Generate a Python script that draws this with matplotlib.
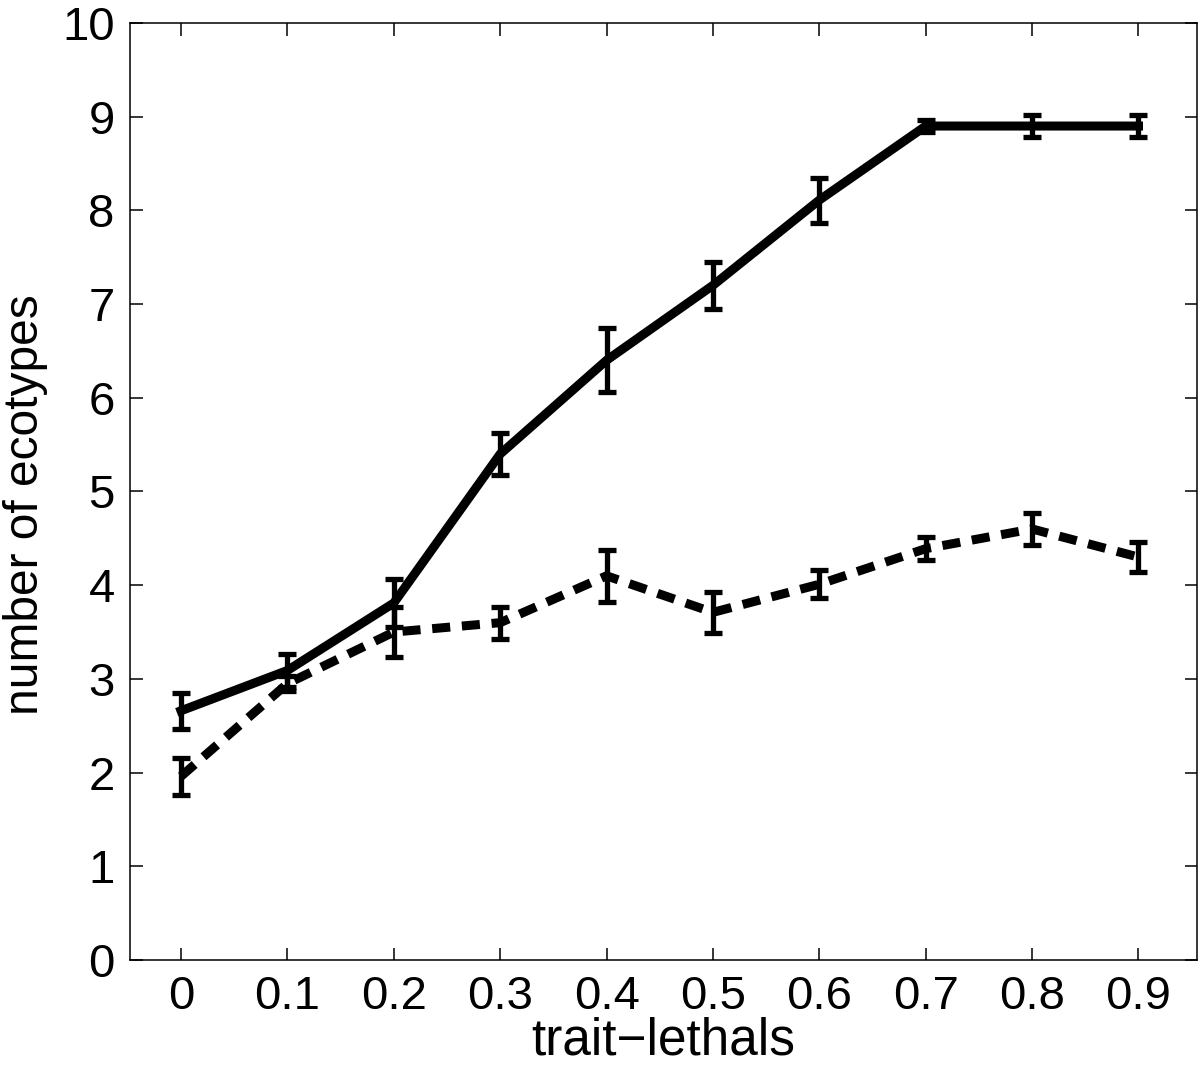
import matplotlib
matplotlib.use("Agg")
import matplotlib.pyplot as plt

x = [0, 0.1, 0.2, 0.3, 0.4, 0.5, 0.6, 0.7, 0.8, 0.9]
solid_mean = [2.66, 3.09, 3.81, 5.40, 6.40, 7.20, 8.11, 8.90, 8.90, 8.90]
solid_err = [0.19, 0.18, 0.26, 0.22, 0.34, 0.25, 0.24, 0.06, 0.12, 0.12]
dashed_mean = [1.96, 2.95, 3.50, 3.60, 4.10, 3.71, 4.01, 4.39, 4.60, 4.30]
dashed_err = [0.20, 0.08, 0.27, 0.17, 0.28, 0.22, 0.15, 0.12, 0.17, 0.16]
xticks = [0, 0.1, 0.2, 0.3, 0.4, 0.5, 0.6, 0.7, 0.8, 0.9]
xticklabels = ["0", "0.1", "0.2", "0.3", "0.4", "0.5", "0.6", "0.7", "0.8", "0.9"]
yticks = list(range(0, 11))

plt.rcParams['font.family'] = ['Liberation Sans', 'DejaVu Sans']

fig = plt.figure(figsize=(12, 10.73), dpi=100)
ax = fig.add_axes([0.1083, 0.1053, 0.8892, 0.8733])

ekw = dict(color='black', elinewidth=3.8, capsize=6.8, capthick=3.8)
l1 = ax.errorbar(x, solid_mean, yerr=solid_err, linestyle='-', linewidth=6.5, **ekw)
l2 = ax.errorbar(x, dashed_mean, yerr=dashed_err, linestyle='--', linewidth=6.5, **ekw)
l2[0].set_dashes((2.0, 1.3))
l2[0].set_dash_capstyle('butt')

ax.set_xlim(-0.048, 0.955)
ax.set_ylim(0, 10)
ax.set_xticks(xticks)
ax.set_xticklabels(xticklabels)
ax.set_yticks(yticks)
ax.tick_params(direction='in', length=9, width=1.1, top=True, right=True,
               labelsize=34, pad=11)
for s in ax.spines.values():
    s.set_linewidth(1.1)

ax.set_xlabel("trait\u2212lethals", fontsize=37, labelpad=-2)
ax.set_ylabel("number of ecotypes", fontsize=34.5)
ax.yaxis.set_label_coords(-0.077, 0.486)

fig.savefig("out.png", dpi=100)
